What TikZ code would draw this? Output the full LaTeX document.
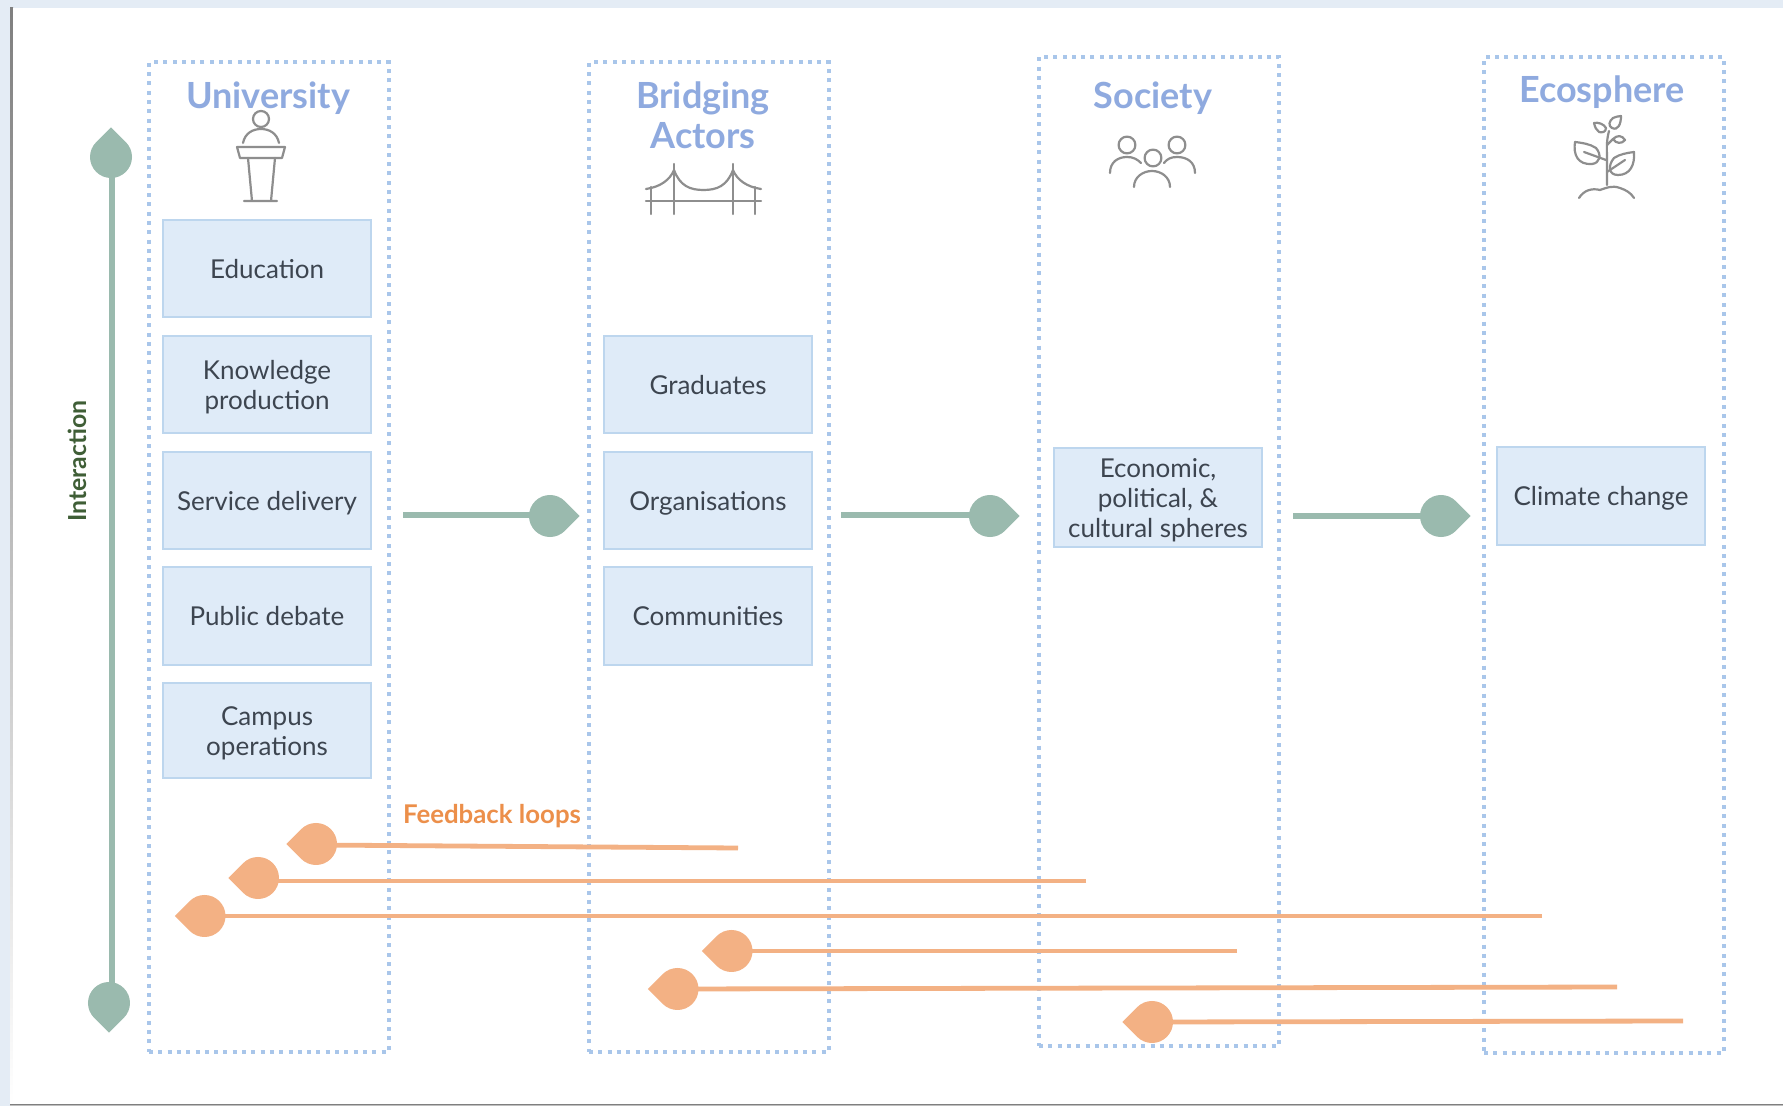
\documentclass[tikz,border=0pt]{standalone}
\usepackage{fontspec}
\setmainfont{Lato}
\definecolor{bgout}{HTML}{E4ECF5}
\definecolor{shade}{HTML}{B4B8BE}
\definecolor{framec}{HTML}{A9C6EA}
\definecolor{boxfill}{HTML}{DFEBF8}
\definecolor{boxline}{HTML}{BDD6EE}
\definecolor{titlec}{HTML}{8FAADF}
\definecolor{bodyc}{HTML}{3D4550}
\definecolor{greenc}{HTML}{9ABAAE}
\definecolor{orangec}{HTML}{F3B184}
\definecolor{labelor}{HTML}{EC8F4A}
\definecolor{labelgr}{HTML}{3F5E36}
\definecolor{iconc}{HTML}{8E8E8E}
\newcommand{\tp}{\rule{0pt}{12.5pt}}
\newcommand{\bt}{\rule[-2.8pt]{0pt}{0pt}}
\tikzset{
  framebox/.style={draw=framec,line width=2pt,dash pattern=on 2pt off 2.65pt,inner sep=0pt,minimum width=120pt,minimum height=#1},
  itembox/.style={draw=boxline,line width=1pt,fill=boxfill,inner sep=0pt,text=bodyc,align=center,
    font=\fontsize{13}{15}\selectfont,minimum width=104pt,minimum height=#1},
  titletext/.style={text=titlec,align=center,font=\fontsize{18}{20}\selectfont\bfseries,inner sep=0pt},
  headpt/.style={inner sep=0pt,minimum size=0pt},
  greenline/.style={draw=greenc,line width=2.6pt},
  orangeline/.style={draw=orangec,line width=2.4pt},
  icon/.style={draw=iconc,line width=1.1pt,line cap=round,line join=round},
}
% head: name, position, direction angle, colour
\newcommand{\leafhead}[4]{%
  \node[headpt] (#1) at (#2) {};
  \begin{scope}[shift={(#2)},rotate=#3,x=1pt,y=1pt]
    \fill[#4] (14.85,0) -- (7.42,7.42) arc[start angle=45,end angle=315,radius=10.5pt] -- cycle;
  \end{scope}}
\begin{document}
\begin{tikzpicture}[x=0.5pt,y=-0.5pt]
\useasboundingbox (0,0) rectangle (1783,1106);
\fill[bgout] (0,0) rectangle (1783,1106);
\fill[shade] (10,8) rectangle (13,1106);
\fill[shade] (10,1104) rectangle (1783,1106);
\fill[white] (13,8) rectangle (1783,1104);

% columns
\node[framebox=494.5pt] (fu) at (269,557) {};
\node[framebox=494.5pt] (fb) at (709,557) {};
\node[framebox=494.5pt] (fs) at (1159,551.5) {};
\node[framebox=497.5pt] (fe) at (1604,555) {};

% titles
\node[titletext] (tu) at (268,98) {University};
\node[titletext] (tb) at (703,115) {Bridging\\Actors};
\node[titletext] (ts) at (1153,98) {Society};
\node[titletext] (te) at (1602,92) {Ecosphere};

% boxes
\node[itembox=48.5pt] (b1) at (267,269) {\tp Education\bt};
\node[itembox=48.5pt] (b2) at (267,385) {\tp Knowledge\\production\bt};
\node[itembox=48.5pt] (b3) at (267,501) {\tp Service delivery\bt};
\node[itembox=48.5pt] (b4) at (267,616) {\tp Public debate\bt};
\node[itembox=47.5pt] (b5) at (267,730.5) {\tp Campus\\operations\bt};
\node[itembox=48.5pt] (c1) at (708,385) {\tp Graduates\bt};
\node[itembox=48.5pt] (c2) at (708,501) {\tp Organisations\bt};
\node[itembox=48.5pt] (c3) at (708,616) {\tp Communities\bt};
\node[itembox=49.5pt] (d1) at (1158,498) {\tp Economic,\\political, \&\\cultural spheres\bt};
\node[itembox=49pt] (e1) at (1601,496) {\tp Climate change\bt};

% podium icon
\draw[icon] (261,119) circle[radius=4pt];
\draw[icon] (243,143) .. controls (245,133) and (253,129) .. (261,129) .. controls (269,129) and (277,133) .. (279,143);
\draw[icon] (237,147) -- (285,147) -- (282,158) -- (240,158) -- cycle;
\draw[icon] (248,158) -- (252,201) (275,158) -- (271,201) (244,201) -- (277,201);

% bridge icon
\draw[icon] (674,164) -- (674,214) (733,164) -- (733,214) (651,187) -- (651,214) (755,187) -- (755,214);
\draw[icon] (646,201) -- (761,201);
\draw[icon] (646,189) .. controls (660,187) and (670,180) .. (674,170) .. controls (680,186) and (690,190) .. (703.5,190) .. controls (717,190) and (727,186) .. (733,170) .. controls (737,180) and (747,187) .. (761,189);

% people icon
\draw[icon] (1127,145) circle[radius=4.2pt];
\draw[icon] (1177,145) circle[radius=4.2pt];
\draw[icon] (1153,158) circle[radius=4.2pt];
\draw[icon] (1110,173) .. controls (1110,162) and (1118,157) .. (1127,157) .. controls (1133,157) and (1137,159) .. (1141,163);
\draw[icon] (1195,173) .. controls (1195,162) and (1187,157) .. (1177,157) .. controls (1171,157) and (1167,159) .. (1164,163);
\draw[icon] (1134,187) .. controls (1134,177) and (1143,171) .. (1152,171) .. controls (1161,171) and (1170,177) .. (1170,187);

% plant icon
\draw[icon] (1607,185) -- (1607,160) .. controls (1607,150) and (1606,142) .. (1609,131);
\draw[icon] (1579,198) .. controls (1584,190) and (1592,188) .. (1600,190) .. controls (1606,188) and (1612,185) .. (1620,188) .. controls (1626,190) and (1631,193) .. (1634,198);
\draw[icon] (1575,142) .. controls (1573,155) and (1578,165) .. (1592,164) .. controls (1600,163) and (1602,155) .. (1596,148) .. controls (1590,144) and (1583,143) .. (1575,142) -- cycle;
\draw[icon] (1584,152) -- (1606,160);
\draw[icon] (1634,152) .. controls (1635,165) and (1630,175) .. (1618,175) .. controls (1608,175) and (1608,165) .. (1614,158) .. controls (1620,154) and (1627,153) .. (1634,152) -- cycle;
\draw[icon] (1607,172) -- (1625,160);
\draw[icon] (1621,116) .. controls (1621,124) and (1618,131) .. (1612,128) .. controls (1608,126) and (1609,121) .. (1613,118) .. controls (1616,117) and (1618,116) .. (1621,116) -- cycle;
\draw[icon] (1594,123) .. controls (1598,122) and (1604,124) .. (1606,128) .. controls (1606,132) and (1602,133) .. (1599,132) .. controls (1596,130) and (1595,127) .. (1594,123) -- cycle;
\draw[icon] (1625,140) .. controls (1622,135) and (1617,135) .. (1613,139) .. controls (1616,144) and (1622,144) .. (1625,140) -- cycle;
\draw[icon] (1607,145) -- (1613,139);

% horizontal flow arrows
\coordinate (a1) at (403,515);
\coordinate (a2) at (841,515);
\coordinate (a3) at (1293,516);
\leafhead{h1}{550,516}{0}{greenc}
\leafhead{h2}{990,516}{0}{greenc}
\leafhead{h3}{1441,516}{0}{greenc}
\draw[greenline] (a1) -- ([yshift=0.5pt]h1.center);
\draw[greenline] (a2) -- ([yshift=0.5pt]h2.center);
\draw[greenline] (a3) -- (h3);

% interaction axis
\leafhead{vt}{111,157}{90}{greenc}
\leafhead{vb}{109,1003}{270}{greenc}
\draw[greenline] ([xshift=0.5pt]vt.center) -- ([xshift=1.5pt]vb.center);
\node[rotate=90,text=labelgr,inner sep=0pt,font=\fontsize{12.4}{14}\selectfont\bfseries] (il) at (77,461) {Interaction};

% feedback loops
\node[text=labelor,inner sep=0pt,font=\fontsize{12.9}{15}\selectfont\bfseries] (fl) at (492,816) {Feedback loops};
\coordinate (r1) at (738,848);
\coordinate (r2) at (1086,881);
\coordinate (r3) at (1542,916);
\coordinate (r4) at (1237,951);
\coordinate (r5) at (1617,987);
\coordinate (r6) at (1683,1021);
\leafhead{l1}{316,844}{180}{orangec}
\leafhead{l2}{258,878}{180}{orangec}
\leafhead{l3}{204.5,916}{180}{orangec}
\leafhead{l4}{731.5,951}{180}{orangec}
\leafhead{l5}{677.5,989}{180}{orangec}
\leafhead{l6}{1152,1022}{180}{orangec}
\draw[orangeline] (r1) -- ([yshift=-0.5pt]l1.center);
\draw[orangeline] (r2) -- ([yshift=-1.5pt]l2.center);
\draw[orangeline] (r3) -- (l3);
\draw[orangeline] (r4) -- (l4);
\draw[orangeline] (r5) -- (l5);
\draw[orangeline] (r6) -- (l6);
\end{tikzpicture}
\end{document}
